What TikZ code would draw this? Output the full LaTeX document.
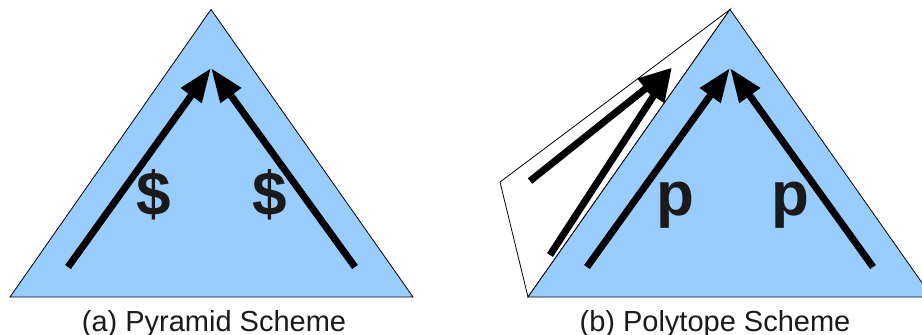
\documentclass[tikz,border=0pt]{standalone}
\usepackage{fontspec}
\setmainfont{Liberation Sans}
\usetikzlibrary{arrows.meta}
\definecolor{pyrblue}{HTML}{99CCFF}
\definecolor{txtgray}{HTML}{1A1A1A}
\tikzset{
  pyr/.style={fill=pyrblue,draw=black,line width=0.8pt,line join=miter},
  shell/.style={fill=white,draw=black,line width=0.8pt},
  flow/.style={line width=7pt,-{Triangle[length=34pt,width=24pt]}},
  sym/.style={anchor=base,text=txtgray,font=\bfseries\fontsize{62}{62}\selectfont,inner sep=0pt},
  captext/.style={anchor=base,text=txtgray,font=\fontsize{29}{29}\selectfont,inner sep=0pt}
}
\begin{document}
\begin{tikzpicture}[x=1pt,y=-1pt]
\useasboundingbox (0,0) rectangle (922,335);
\clip (0,0) rectangle (922,335);
% (a) Pyramid scheme
\draw[pyr] (211,9.5) -- (413,297) -- (10,297) -- cycle;
\coordinate (aT) at (211,68);
\coordinate (aL) at (68,267);
\coordinate (aR) at (355,267);
\draw[flow] (aL) -- (aT);
\draw[flow] (aR) -- (aT);
\node[sym] (d1) at (154,215.5) {\$};
\node[sym] (d2) at (270,215.5) {\$};
\node[captext] (ca) at (214,331.5) {(a) Pyramid Scheme};
% (b) Polytope scheme
\draw[shell] (500,182) -- (730,9.5) -- (528,297) -- cycle;
\draw[pyr] (730,9.5) -- (932,297) -- (528,297) -- cycle;
\coordinate (bT) at (730,68);
\coordinate (bL) at (587,267);
\coordinate (bR) at (873,267);
\coordinate (cT) at (672,67.5);
\coordinate (c1) at (530,181);
\coordinate (c2) at (550,255);
\draw[flow] (bL) -- (bT);
\draw[flow] (bR) -- (bT);
\draw[flow] (c1) -- (cT);
\draw[flow] (c2) -- (cT);
\node[sym] (p1) at (675,215) {p};
\node[sym] (p2) at (790,215) {p};
\node[captext] (cb) at (715,331.5) {(b) Polytope Scheme};
\end{tikzpicture}
\end{document}
